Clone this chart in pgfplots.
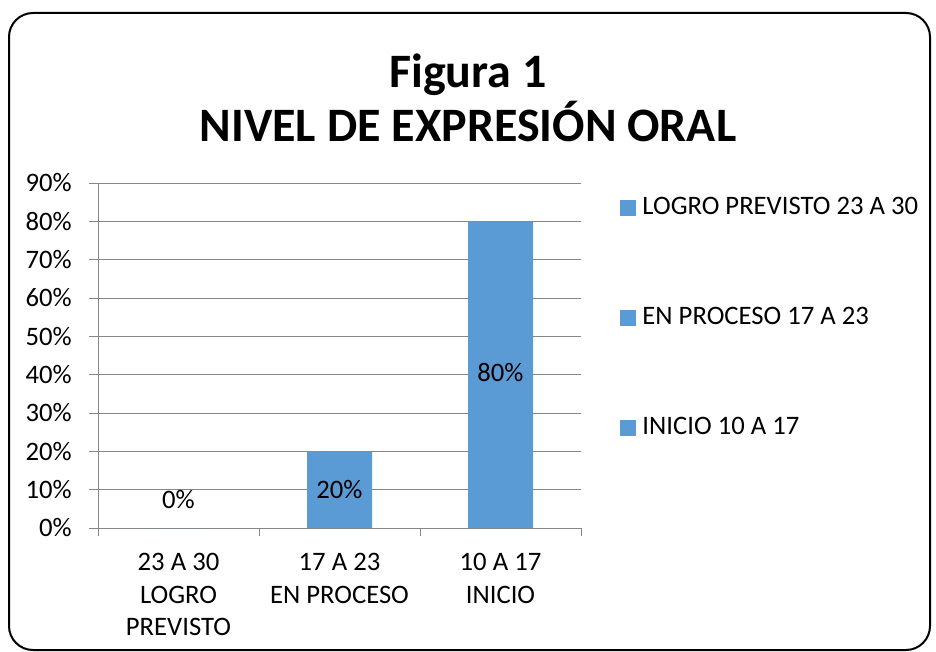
\documentclass[border=0pt]{standalone}
\usepackage{pgfplots}
\pgfplotsset{compat=1.18}
\usepackage{fontspec}
\setmainfont{Carlito}
\definecolor{barblue}{RGB}{91,155,213}
\definecolor{axgray}{RGB}{134,134,134}
\newcommand{\lbl}{\fontsize{20}{24.4}\selectfont}
\begin{document}
\begin{tikzpicture}
\path[use as bounding box] (0,0) rectangle (702pt,-489pt);
\draw[line width=1.5pt, rounded corners=18pt] (6.75pt,-9.75pt) rectangle (697.5pt,-487.5pt);
\node[anchor=base, font=\fontsize{36}{40}\selectfont\bfseries, inner sep=0pt] at (351pt,-66pt) {Figura 1};
\node[anchor=base, font=\fontsize{36}{40}\selectfont\bfseries, inner sep=0pt] at (351pt,-106.5pt) {NIVEL DE EXPRESIÓN ORAL};
\begin{axis}[
  at={(73.5pt,-396pt)}, anchor=south west,
  scale only axis, width=362.25pt, height=258.75pt,
  xmin=-0.5, xmax=2.5, ymin=0, ymax=90,
  axis x line*=bottom, axis y line*=left,
  axis line style={axgray, line width=0.75pt},
  tick align=outside,
  ytick={0,10,...,90},
  yticklabels={0\%,10\%,20\%,30\%,40\%,50\%,60\%,70\%,80\%,90\%},
  ymajorgrids, grid style={axgray, line width=0.75pt},
  y tick style={axgray, line width=0.75pt},
  major tick length=6.75pt,
  xtick={0,1,2},
  xticklabels={{23 A 30\\LOGRO\\PREVISTO},{17 A 23\\EN PROCESO},{10 A 17\\INICIO}},
  major x tick style={draw=none},
  minor xtick={-0.5,0.5,1.5,2.5},
  minor x tick style={axgray, line width=0.75pt},
  minor tick length=6pt,
  yticklabel style={font=\lbl, inner sep=0pt, xshift=-12.75pt},
  xticklabel style={font=\lbl, align=center, inner sep=0pt, anchor=north, yshift=-12pt},
  legend cell align=left,
  legend style={at={(1.0725,0.972)}, anchor=north west, draw=none, fill=none,
    font=\lbl, row sep=64.5pt,
    nodes={inner sep=0pt, text height=14pt, text depth=4pt},
    /tikz/every odd column/.append style={column sep=5pt}},
  legend image code/.code={\fill[barblue] (0pt,-5.6pt) rectangle (11.25pt,5.6pt);},
  clip=false,
]
\addplot[ybar, bar width=48.75pt, fill=barblue, draw=none, forget plot] coordinates {(0,0) (1,20) (2,80)};
\addplot[draw=none, mark=none, forget plot, nodes near coords, point meta=explicit symbolic,
  every node near coord/.append style={anchor=center, font=\lbl, text=black}]
  coordinates {(0,7.5)[0\%] (1,10)[20\%] (2,40.5)[80\%]};
\addlegendimage{barblue}
\addlegendentry{LOGRO PREVISTO 23 A 30}
\addlegendimage{barblue}
\addlegendentry{EN PROCESO 17 A 23}
\addlegendimage{barblue}
\addlegendentry{INICIO 10 A 17}
\end{axis}
\end{tikzpicture}
\end{document}
